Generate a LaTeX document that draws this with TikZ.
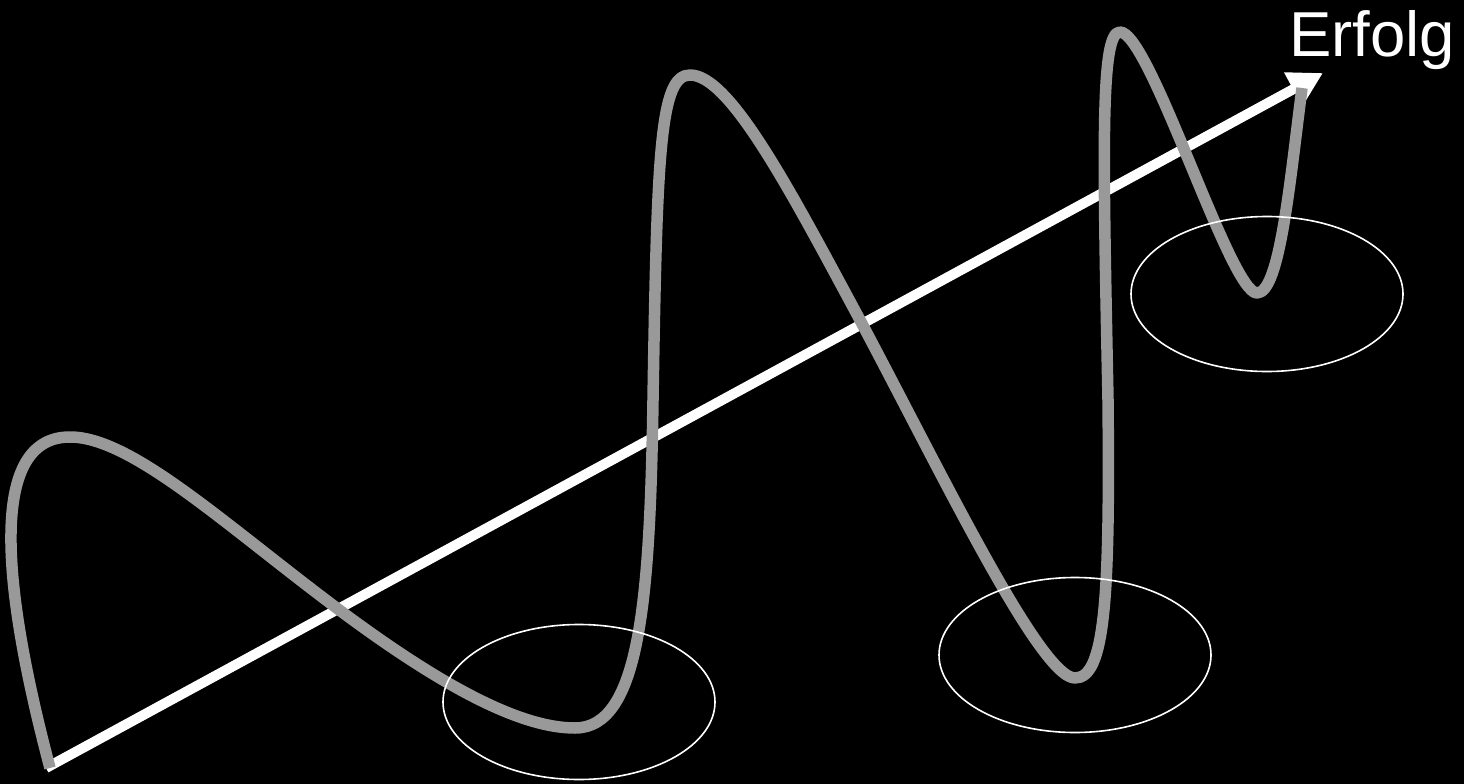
\documentclass[tikz,border=0pt]{standalone}
\usepackage{fontspec}
\setmainfont{Liberation Sans}
\usetikzlibrary{arrows.meta,shapes.geometric}
\begin{document}
\begin{tikzpicture}[x=1pt,y=-1pt,
  curvy/.style={draw=black!40, line width=11.5pt, line cap=butt, line join=round},
  ring/.style={draw=white, line width=1.6pt, ellipse, minimum width=272pt, minimum height=155pt, inner sep=0pt},
  mainarrow/.style={draw=white, line width=10pt, -{Triangle[length=34pt,width=36pt]}}]
\fill[black] (0,0) rectangle (1464,784);
\useasboundingbox (0,0) rectangle (1464,784);
\coordinate (start) at (46,768);
\coordinate (tip) at (1323,73);
\draw[mainarrow] (start) -- (tip);
\draw[curvy] (50,768) .. controls (-5,560) and (-5,437) .. (70,437)
  .. controls (130,437) and (220,520) .. (330,603)
  .. controls (440,686) and (520,728) .. (575,728)
  .. controls (640,728) and (650,600) .. (653,400)
  .. controls (657,150) and (660,75) .. (690,75)
  .. controls (730,75) and (790,190) .. (860,320)
  .. controls (940,470) and (1040,678) .. (1075,678)
  .. controls (1105,678) and (1110,600) .. (1108,400)
  .. controls (1103,150) and (1100,32) .. (1120,32)
  .. controls (1150,32) and (1230,293) .. (1257,293)
  .. controls (1280,293) and (1290,180) .. (1302,88);
\node[ring] (e1) at (579,702) {};
\node[ring] (e2) at (1075,655) {};
\node[ring] (e3) at (1267,294) {};
\node[anchor=base west, inner sep=0pt, text=white, font=\fontsize{63.5}{70}\selectfont] (label) at (1289,57) {Erfolg};
\end{tikzpicture}
\end{document}
